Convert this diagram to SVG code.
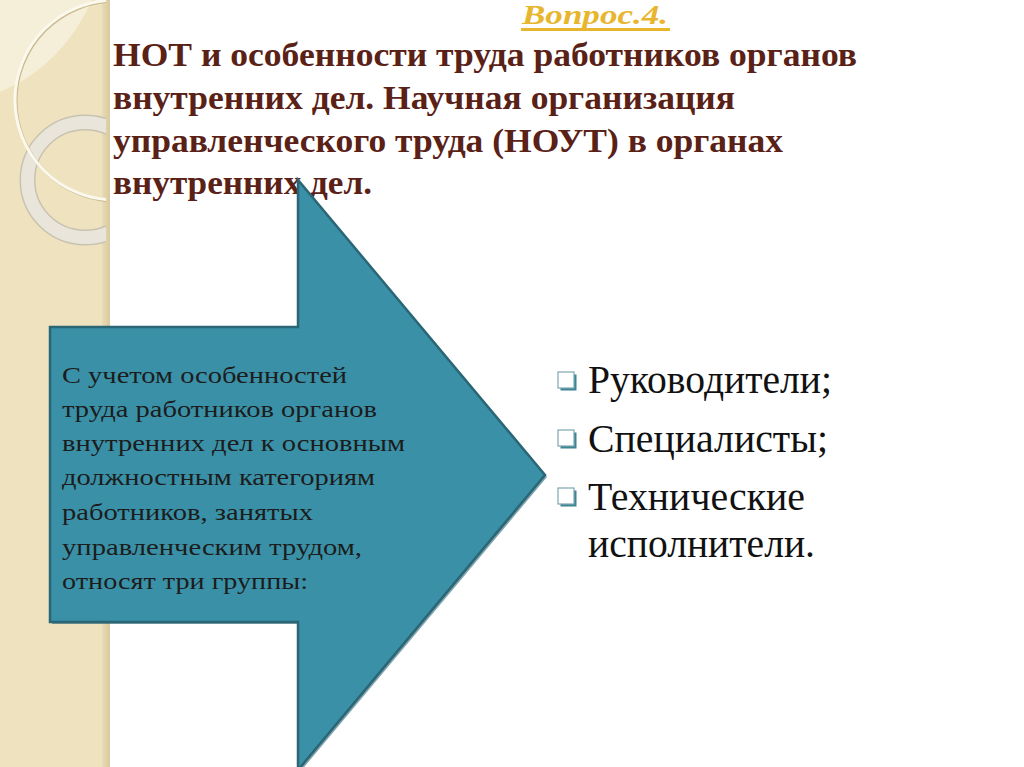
<svg xmlns="http://www.w3.org/2000/svg" width="1024" height="767" viewBox="0 0 1024 767">
  <defs>
    <style>
      .title { font-weight: bold; font-size: 34px; fill: #5a2117; }
      .q { font-weight: bold; font-style: italic; font-size: 27px; fill: #e8b62e; }
      .box { font-size: 23px; fill: #1c1c1c; }
      .item { font-size: 39px; fill: #111111; }
    </style>
    <clipPath id="bandClip">
      <rect x="0" y="0" width="106" height="767"/>
    </clipPath>
    <linearGradient id="edge" x1="0" y1="0" x2="1" y2="0">
      <stop offset="0" stop-color="#e9dcb4"/>
      <stop offset="1" stop-color="#d8c9a0"/>
    </linearGradient>
    <g id="bullet">
      <rect x="2.5" y="2.5" width="16" height="16" fill="#3f8494"/>
      <rect x="0" y="0" width="16" height="16" fill="#ffffff" stroke="#7da7b2" stroke-width="1.2"/>
    </g>
  </defs>

  <rect x="0" y="0" width="1024" height="767" fill="#ffffff"/>

  <g id="band">
    <rect x="0" y="0" width="110" height="767" fill="#efe3bf"/>
    <rect x="102" y="0" width="8" height="767" fill="url(#edge)"/>
    <g clip-path="url(#bandClip)">
      <path d="M0,0 L92,0 Q62,66 0,92 Z" fill="#f5eed8"/>
      <circle cx="85" cy="180" r="57.5" fill="none" stroke="#c9c2b0" stroke-width="16"/>
      <circle cx="85" cy="180" r="57.5" fill="none" stroke="#e9e5da" stroke-width="13"/>
      <circle cx="116" cy="101" r="100" fill="none" stroke="#c8b98e" stroke-width="3"/>
      <circle cx="115" cy="100" r="100" fill="none" stroke="#fbf8ee" stroke-width="3"/>
    </g>
  </g>

  <g font-family="Liberation Serif, Times New Roman, serif">
  <g id="question">
    <text class="q" x="522" y="24" textLength="146" lengthAdjust="spacingAndGlyphs">Вопрос.4.</text>
    <rect x="521" y="28" width="149" height="3" fill="#e8b62e"/>
  </g>

  <g id="title">
    <text class="title" x="113" y="66" textLength="744" lengthAdjust="spacingAndGlyphs">НОТ и особенности труда работников органов</text>
    <text class="title" x="113" y="109" textLength="622" lengthAdjust="spacingAndGlyphs">внутренних дел. Научная организация</text>
    <text class="title" x="113" y="152" textLength="670" lengthAdjust="spacingAndGlyphs">управленческого труда (НОУТ) в органах</text>
    <text class="title" x="113" y="194" textLength="259" lengthAdjust="spacingAndGlyphs">внутренних дел.</text>
  </g>

  <g id="arrow-node">
    <polygon points="52,329 300,329 300,182 547,477 300,772 300,624 52,624" fill="#2d6675" opacity="0.6"/>
    <polygon points="50,327 298,327 298,180 545,475 298,770 298,622 50,622" fill="#3a91a7" stroke="#2b6676" stroke-width="2.5" stroke-linejoin="miter"/>
    <text class="box" x="62" y="383" textLength="285" lengthAdjust="spacingAndGlyphs">С учетом особенностей</text>
    <text class="box" x="62" y="417" textLength="315" lengthAdjust="spacingAndGlyphs">труда работников органов</text>
    <text class="box" x="62" y="451" textLength="343" lengthAdjust="spacingAndGlyphs">внутренних дел к основным</text>
    <text class="box" x="62" y="485" textLength="313" lengthAdjust="spacingAndGlyphs">должностным категориям</text>
    <text class="box" x="62" y="520" textLength="251" lengthAdjust="spacingAndGlyphs">работников, занятых</text>
    <text class="box" x="62" y="555" textLength="300" lengthAdjust="spacingAndGlyphs">управленческим трудом,</text>
    <text class="box" x="62" y="589" textLength="246" lengthAdjust="spacingAndGlyphs">относят три группы:</text>
  </g>

  <g id="list-node">
    <use href="#bullet" x="558" y="372"/>
    <use href="#bullet" x="558" y="430"/>
    <use href="#bullet" x="558" y="488"/>
    <text class="item" x="588" y="393" textLength="244" lengthAdjust="spacingAndGlyphs">Руководители;</text>
    <text class="item" x="588" y="452" textLength="240" lengthAdjust="spacingAndGlyphs">Специалисты;</text>
    <text class="item" x="588" y="510" textLength="217" lengthAdjust="spacingAndGlyphs">Технические</text>
    <text class="item" x="588" y="557" textLength="227" lengthAdjust="spacingAndGlyphs">исполнители.</text>
  </g>
  </g>
</svg>
